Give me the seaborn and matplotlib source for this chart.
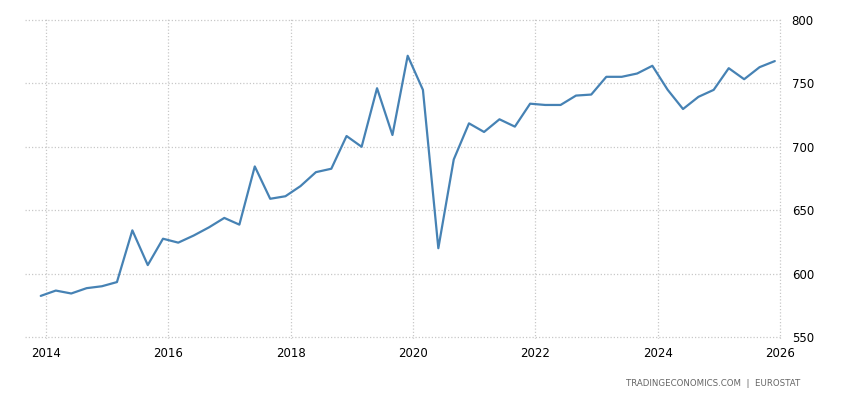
import pandas as pd
import numpy as np
import matplotlib.pyplot as plt
import matplotlib.dates as mdates
import seaborn as sns

# quarterly values, 2013Q4 .. 2025Q4
values = [582.4, 586.6, 584.3, 588.5, 590.0, 593.3, 634.1, 606.7, 627.5, 624.4,
          630.0, 636.5, 643.9, 638.6, 684.5, 659.0, 661.0, 669.0, 680.0, 682.7,
          708.5, 700.0, 746.2, 709.3, 771.8, 744.9, 620.0, 690.0, 718.5, 711.7,
          721.7, 715.9, 734.0, 733.0, 733.0, 740.4, 741.2, 755.2, 755.2, 757.8,
          763.9, 745.0, 729.8, 739.4, 744.9, 762.0, 753.3, 762.8, 767.6]
dates = pd.date_range("2013-11-30", periods=len(values), freq="3ME")
year_ticks = [2014, 2016, 2018, 2020, 2022, 2024, 2026]
y_ticks = [550, 600, 650, 700, 750, 800]

df = pd.DataFrame({"date": dates, "value": values})

sns.set_theme(style="white")
plt.rcParams["font.family"] = ["DejaVu Sans"]

fig = plt.figure(figsize=(8.5, 4), dpi=100)
ax = fig.add_axes([25 / 850, 1 - 339 / 400, 757 / 850, 320 / 400])

sns.lineplot(data=df, x="date", y="value", ax=ax, color="#4682b4", linewidth=1.6)

ax.set_xlim(pd.Timestamp("2013-08-28"), pd.Timestamp("2026-01-12"))
ax.set_ylim(548.4, 800.8)
ax.set_xticks([pd.Timestamp(f"{y}-01-01") for y in year_ticks])
ax.xaxis.set_major_formatter(mdates.DateFormatter("%Y"))
ax.set_yticks(y_ticks)

ax.yaxis.tick_right()
ax.grid(True, color="#c8c8c8", linestyle=(0, (1, 1.6)), linewidth=0.9)
for s in ax.spines.values():
    s.set_visible(False)
ax.tick_params(axis="x", length=4, color="#c8c8c8", labelsize=8.5, pad=2, labelcolor="black")
ax.tick_params(axis="y", length=0, labelsize=8.5, pad=7, labelcolor="black")
ax.set_xlabel("")
ax.set_ylabel("")

fig.text(800 / 850, 1 - 383 / 400, "TRADINGECONOMICS.COM  |  EUROSTAT",
         ha="right", va="center", fontsize=6.2, color="#666666")

fig.savefig("out.png", dpi=100)
